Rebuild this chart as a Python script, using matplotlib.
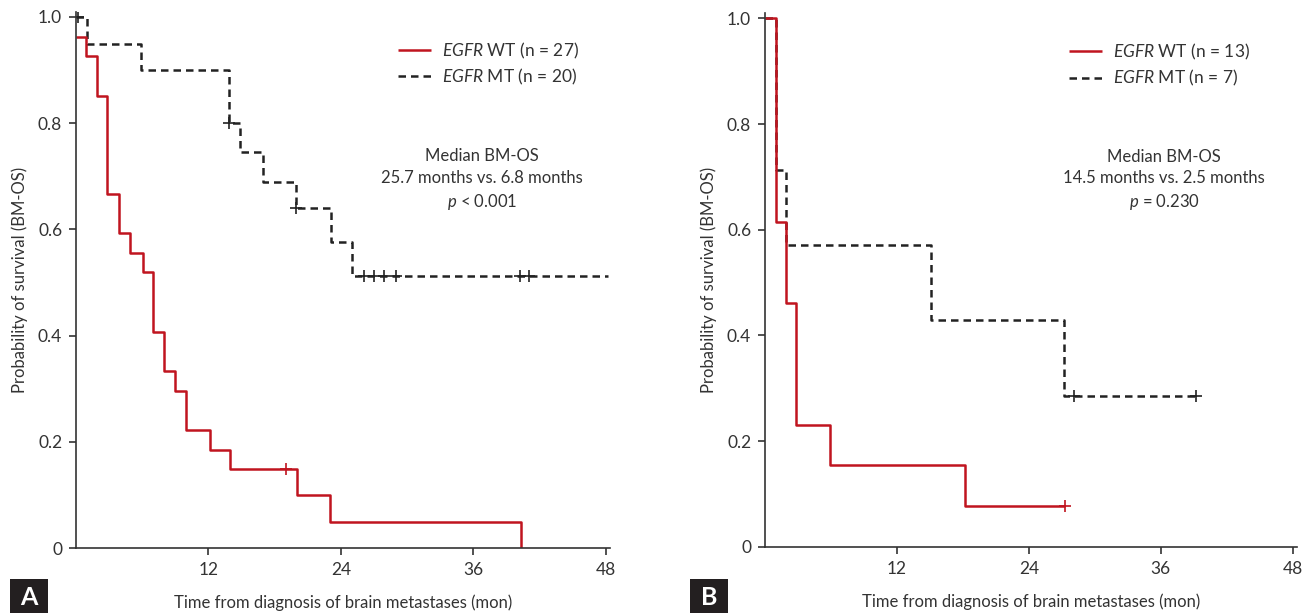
import numpy as np
import matplotlib
matplotlib.use('Agg')
import matplotlib.pyplot as plt
from matplotlib.patches import Rectangle

plt.rcParams['font.family'] = ['Lato', 'DejaVu Sans']
plt.rcParams['mathtext.fontset'] = 'custom'
plt.rcParams['mathtext.rm'] = 'Lato'
plt.rcParams['mathtext.it'] = 'Lato:italic'

RED = '#c0141f'
BLACK = '#222222'
TXT = '#333333'

# Panel A: all patients
a_wt_t = [0, 0.9, 1.9, 2.85, 3.9, 4.85, 6.05, 6.95, 7.95, 8.95, 9.95, 12.1, 14.0, 20.0, 23.0, 40.3]
a_wt_s = [0.963, 0.926, 0.852, 0.667, 0.593, 0.556, 0.519, 0.407, 0.333, 0.296, 0.222, 0.185, 0.148, 0.099, 0.049, 0.0]
a_wt_end = 40.3
a_wt_cens = [19.0]

a_mt_t = [0, 0.95, 5.9, 13.9, 14.85, 16.95, 19.9, 23.1, 25.05]
a_mt_s = [1.0, 0.95, 0.90, 0.80, 0.745, 0.69, 0.641, 0.577, 0.513]
a_mt_end = 48.2
a_mt_cens = [0.2, 13.9, 19.9, 26.1, 27.0, 27.9, 29.0, 40.2, 41.1]

# Panel B
b_wt_t = [0, 0.98, 1.9, 2.82, 5.9, 18.2]
b_wt_s = [1.0, 0.615, 0.462, 0.231, 0.154, 0.077]
b_wt_end = 27.3
b_wt_cens = [27.3]

b_mt_t = [0, 0.98, 1.94, 15.1, 27.2]
b_mt_s = [1.0, 0.714, 0.571, 0.429, 0.286]
b_mt_end = 39.2
b_mt_cens = [28.1, 39.2]

legend_a = [r'$\mathit{EGFR}$ WT (n = 27)', r'$\mathit{EGFR}$ MT (n = 20)']
legend_b = [r'$\mathit{EGFR}$ WT (n = 13)', r'$\mathit{EGFR}$ MT (n = 7)']
note_a = 'Median BM-OS\n25.7 months vs. 6.8 months\n$\\mathit{p}$ < 0.001'
note_b = 'Median BM-OS\n14.5 months vs. 2.5 months\n$\\mathit{p}$ = 0.230'

xticks = [12, 24, 36, 48]
yticks = [0, 0.2, 0.4, 0.6, 0.8, 1.0]
yticklabels = ['0', '0.2', '0.4', '0.6', '0.8', '1.0']


def km(ax, t, s, end, cens, color, ls, label):
    x = list(t) + [end]
    y = list(s) + [s[-1]]
    ax.step(x, y, where='post', color=color, lw=1.8, ls=ls, label=label,
            solid_capstyle='butt', dash_capstyle='butt')
    idx = np.searchsorted(t, cens, side='right') - 1
    ax.plot(cens, np.array(s)[idx], ls='none', marker='+', ms=8, mew=1.2, color=color)


def setup(ax):
    ax.set_xlim(0, 48.4)
    ax.set_ylim(0, 1.01)
    for sp in ['top', 'right']:
        ax.spines[sp].set_visible(False)
    for sp in ['left', 'bottom']:
        ax.spines[sp].set_color(TXT)
        ax.spines[sp].set_linewidth(1.2)
    ax.set_xticks(xticks)
    ax.set_yticks(yticks)
    ax.set_yticklabels(yticklabels)
    ax.tick_params(direction='out', length=5, width=1.2, colors=TXT, labelsize=12.5, pad=5)
    ax.set_xlabel('Time from diagnosis of brain metastases (mon)', fontsize=12, color=TXT, labelpad=12)
    ax.set_ylabel('Probability of survival (BM-OS)', fontsize=12, color=TXT, labelpad=7)


fig = plt.figure(figsize=(13.04, 6.13), dpi=100)
axA = fig.add_axes([0.0583, 0.106, 0.4095, 0.875])
axB = fig.add_axes([0.5867, 0.108, 0.408, 0.8706])

km(axA, a_mt_t, a_mt_s, a_mt_end, a_mt_cens, BLACK, (0, (3, 2)), legend_a[1])
km(axA, a_wt_t, a_wt_s, a_wt_end, a_wt_cens, RED, '-', legend_a[0])
km(axB, b_mt_t, b_mt_s, b_mt_end, b_mt_cens, BLACK, (0, (3, 2)), legend_b[1])
km(axB, b_wt_t, b_wt_s, b_wt_end, b_wt_cens, RED, '-', legend_b[0])

for ax, note, lx, nx in [(axA, note_a, 0.603, 0.760), (axB, note_b, 0.571, 0.75)]:
    setup(ax)
    h, l = ax.get_legend_handles_labels()
    leg = ax.legend(h[::-1], l[::-1], loc='upper left', bbox_to_anchor=(lx, 0.946),
                    frameon=False, fontsize=12.5, handlelength=1.9, handletextpad=0.65,
                    labelspacing=0.35, borderpad=0, borderaxespad=0)
    for t in leg.get_texts():
        t.set_color(TXT)
    ax.text(nx, 0.686, note, transform=ax.transAxes, ha='center', va='center',
            fontsize=12, color=TXT, linespacing=1.4)

for x0, letter in [(0.0077, 'A'), (0.529, 'B')]:
    fig.patches.append(Rectangle((x0, 0), 0.029, 0.056, transform=fig.transFigure,
                                 facecolor='#231f20', edgecolor='none'))
    fig.text(x0 + 0.0145, 0.026, letter, color='white', fontsize=18, fontweight='bold',
             ha='center', va='center')

fig.savefig('out.png', dpi=100)
